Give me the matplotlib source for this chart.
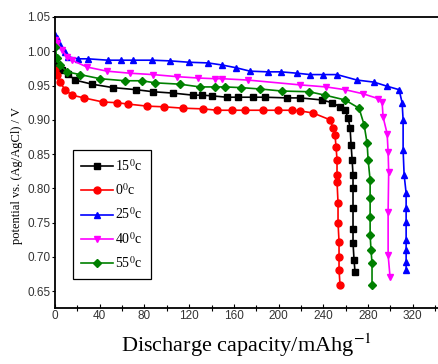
import matplotlib
matplotlib.use("Agg")
import matplotlib.pyplot as plt
from matplotlib.ticker import MultipleLocator

plt.rcParams['mathtext.fontset'] = 'stix'

# ---- data ----
x15 = [0, 2.7, 6.3, 11.6, 17.9, 33.1, 51.9, 72.5, 87.7, 105.5, 123.4, 131.5, 140.4, 153.8, 163.7,
       177.1, 187.8, 207.5, 219.1, 238.8, 247.8, 254.9, 259.4, 262.1, 263.9, 264.8, 265.7, 266.5,
       266.5, 266.5, 266.5, 266.5, 267.4, 268.3]
y15 = [0.990, 0.979, 0.973, 0.967, 0.958, 0.952, 0.947, 0.944, 0.941, 0.939, 0.936, 0.936, 0.935, 0.933, 0.933,
       0.933, 0.933, 0.932, 0.932, 0.929, 0.925, 0.919, 0.914, 0.903, 0.888, 0.863, 0.842, 0.820,
       0.801, 0.772, 0.741, 0.721, 0.696, 0.678]

x0 = [0, 1.8, 4.5, 8.9, 15.2, 25.9, 42.9, 55.5, 65.3, 82.3, 97.5, 114.5, 132.4, 144.9, 158.3, 169.9,
      186.0, 199.5, 212.0, 219.1, 230.8, 246.0, 248.7, 250.4, 251.3, 252.2, 252.2, 252.2, 253.1, 253.1,
      254.0, 254.0, 254.0, 254.9]
y0 = [0.973, 0.966, 0.955, 0.944, 0.936, 0.932, 0.926, 0.925, 0.923, 0.920, 0.919, 0.917, 0.916, 0.914, 0.914, 0.914,
      0.914, 0.914, 0.914, 0.913, 0.910, 0.900, 0.888, 0.878, 0.861, 0.842, 0.820, 0.810, 0.779, 0.750,
      0.722, 0.700, 0.681, 0.659]

x25 = [0, 1.8, 4.5, 8.9, 11.6, 20.6, 29.5, 47.4, 59.0, 69.8, 86.8, 102.9, 119.9, 136.9, 149.4, 161.9,
       174.4, 190.5, 202.1, 216.5, 228.1, 239.7, 252.2, 270.1, 285.3, 297.0, 307.7, 310.4, 311.3, 311.3,
       312.2, 314.0, 314.0, 314.0, 314.0, 314.0, 314.0, 314.0]
y25 = [1.024, 1.019, 1.009, 0.999, 0.992, 0.989, 0.989, 0.987, 0.987, 0.987, 0.987, 0.986, 0.984, 0.983, 0.980, 0.976,
       0.971, 0.970, 0.970, 0.968, 0.966, 0.966, 0.966, 0.958, 0.955, 0.949, 0.944, 0.925, 0.900, 0.856,
       0.820, 0.793, 0.772, 0.751, 0.725, 0.710, 0.693, 0.681]

x40 = [0, 1.8, 6.3, 10.7, 15.2, 28.6, 46.5, 67.1, 87.7, 109.1, 127.9, 143.1, 149.4, 172.6, 219.1,
       242.4, 259.4, 275.5, 288.9, 292.5, 293.4, 297.0, 297.9, 298.4, 297.9, 297.9, 299.6]
y40 = [1.017, 1.012, 1.002, 0.992, 0.987, 0.977, 0.971, 0.968, 0.966, 0.963, 0.961, 0.960, 0.960, 0.958, 0.951,
       0.948, 0.944, 0.938, 0.931, 0.926, 0.904, 0.880, 0.853, 0.824, 0.766, 0.703, 0.671]

x55 = [0, 1.8, 4.5, 10.7, 22.4, 40.3, 62.6, 77.8, 89.4, 111.8, 129.7, 143.1, 152.0, 166.4, 183.4,
       203.0, 227.2, 241.5, 259.4, 271.9, 276.4, 279.1, 280.0, 281.8, 281.8, 281.8, 281.8, 282.6,
       283.5, 283.5]
y55 = [1.006, 0.990, 0.980, 0.970, 0.966, 0.960, 0.957, 0.957, 0.954, 0.952, 0.948, 0.948, 0.948, 0.947, 0.945,
       0.942, 0.941, 0.936, 0.929, 0.917, 0.893, 0.866, 0.842, 0.812, 0.786, 0.759, 0.732, 0.710,
       0.691, 0.659]

series = [
    (x15, y15, "15$^{0}$c", "black", "s"),
    (x0, y0, "0$^{0}$c", "#ff0000", "o"),
    (x25, y25, "25$^{0}$c", "#0000ff", "^"),
    (x40, y40, "40$^{0}$c", "#ff00ff", "v"),
    (x55, y55, "55$^{0}$c", "#008000", "D"),
]

xticks = [0, 40, 80, 120, 160, 200, 240, 280, 320]
yticks = [0.65, 0.70, 0.75, 0.80, 0.85, 0.90, 0.95, 1.00, 1.05]

fig = plt.figure(figsize=(4.38, 3.64), dpi=100)
ax = fig.add_axes([55/438, 1-307.7/364, 1-55/438, (307.7-17)/364])

for xs, ys, lab, col, mk in series:
    ms = 5 if mk != "D" else 4.2
    ax.plot(xs, ys, color=col, marker=mk, markersize=ms, linewidth=1.2, label=lab)

ax.set_xlim(0, 342.5)
ax.set_ylim(0.626, 1.05)
ax.set_xticks(xticks)
ax.set_yticks(yticks)
ax.set_yticklabels([f"{v:.2f}" for v in yticks])
ax.xaxis.set_minor_locator(MultipleLocator(20))
for lab in ax.get_xticklabels() + ax.get_yticklabels():
    lab.set_family("Liberation Sans")
    lab.set_fontsize(8.5)
    lab.set_color("#333333")
ax.tick_params(axis='x', which='major', direction='in', length=3, width=0.8, pad=2)
ax.tick_params(axis='x', which='minor', direction='inout', length=5, width=0.8)
ax.tick_params(axis='y', which='major', direction='out', length=2.5, width=0.8, pad=1)
ax.spines['right'].set_visible(False)
for s in ['left', 'bottom', 'top']:
    ax.spines[s].set_linewidth(1.3)

leg = ax.legend(loc='upper left', bbox_to_anchor=(0.047, 0.5425), borderaxespad=0,
                prop={'family': 'Liberation Serif', 'size': 10}, handlelength=2.3,
                labelspacing=0.6, fancybox=False, edgecolor='black', framealpha=1,
                handletextpad=0.15, borderpad=0.6)
leg.get_frame().set_linewidth(0.9)

fig.text(246/438, 1-352/364, "Discharge capacity/mAhg$^{-1}$", ha='center', va='baseline',
         family='Liberation Serif', fontsize=16)
fig.text(17/438, 1-176/364, "potential vs. (Ag/AgCl) / V", ha='center', va='center',
         rotation=90, family='Liberation Serif', fontsize=9)

fig.savefig("out.png", dpi=100)
